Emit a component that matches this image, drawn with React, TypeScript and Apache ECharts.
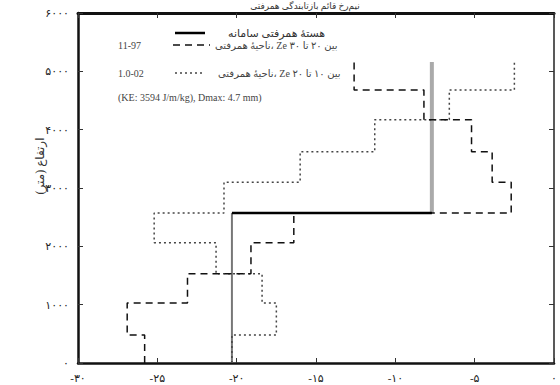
import React, { useEffect, useRef } from 'react';
import * as echarts from 'echarts';

// height layer edges (m)
const heightEdges = [0, 480, 1030, 1530, 2060, 2570, 3100, 3620, 4170, 4680, 5160];
// profile values per layer
const dashedValues = [-25.8, -26.9, -23.1, -19.1, -16.4, -2.7, -3.9, -5.2, -8.2, -12.6];
const dottedValues = [-20.3, -17.5, -18.4, -21.3, -25.2, -20.8, -16.0, -11.3, -6.6, -2.5];
// mean profile (two layers)
const meanEdges = [0, 2570, 5160];
const meanValues = [-20.3, -7.7];

const xMin = -30;
const xMax = 0;
const xStep = 5;
const yMin = 0;
const yMax = 6000;
const yStep = 1000;

const titleText = 'نیم‌رخ قائم بازتابندگی همرفتی';
const yTitle = 'ارتفاع (متر)';
const legendRows = [
  { left: '', text: 'هستهٔ همرفتی سامانه' },
  { left: '11-97', text: 'ناحیهٔ همرفتی، Ze بین ۲۰ تا ۳۰' },
  { left: '1.0-02', text: 'ناحیهٔ همرفتی، Ze بین ۱۰ تا ۲۰' },
];
const legendNote = '(KE: 3594 J/m/kg), Dmax: 4.7 mm)';

const FA = '۰۱۲۳۴۵۶۷۸۹';
const fa = (s: string) => s.replace(/[0-9]/g, (d) => FA[+d]);

const steps = (edges: number[], vals: number[]) => {
  const pts: number[][] = [];
  vals.forEach((v, i) => {
    pts.push([v, edges[i]]);
    pts.push([v, edges[i + 1]]);
  });
  return pts;
};

const FONT = '"Liberation Serif", "DejaVu Sans", serif';

export default function App() {
  const ref = useRef<HTMLDivElement>(null);
  useEffect(() => {
    if (!ref.current) return;
    const chart = echarts.init(ref.current, undefined, { renderer: 'svg' });
    const meanLow = [[meanValues[0], meanEdges[0]], [meanValues[0], meanEdges[1]]];
    const meanMid = [[meanValues[0], meanEdges[1]], [meanValues[1], meanEdges[1]]];
    const meanHigh = [[meanValues[1], meanEdges[1]], [meanValues[1], meanEdges[2]]];
    const axisLine = { show: true, onZero: false, lineStyle: { color: '#111', width: 2.5 } };
    const tick = { show: true, inside: true, length: 5, lineStyle: { color: '#333', width: 1 } };
    const lbl = {
      fontFamily: FONT,
      fontSize: 11,
      color: '#222',
    };
    chart.setOption({
      animation: false,
      grid: { left: 78, right: 3, top: 13, bottom: 22, containLabel: false },
      xAxis: [
        {
          type: 'value', position: 'bottom', min: xMin, max: xMax, interval: xStep,
          axisLine, axisTick: tick, splitLine: { show: false },
          axisLabel: { ...lbl, margin: 9, formatter: (v: number) => (v < 0 ? '-' : '') + fa(String(Math.abs(v))) },
        },
        {
          type: 'value', position: 'top', min: xMin, max: xMax, interval: xStep,
          axisLine: { show: true, onZero: false, lineStyle: { color: '#111', width: 3 } }, axisTick: tick,
          splitLine: { show: false }, axisLabel: { show: false },
        },
      ],
      yAxis: [
        {
          type: 'value', position: 'left', min: yMin, max: yMax, interval: yStep,
          axisLine, axisTick: tick, splitLine: { show: false },
          axisLabel: { ...lbl, margin: 9, formatter: (v: number) => fa(String(v)) },
        },
        {
          type: 'value', position: 'right', min: yMin, max: yMax, interval: yStep,
          axisLine: { show: true, onZero: false, lineStyle: { color: '#222', width: 1.5 } }, axisTick: tick,
          splitLine: { show: false }, axisLabel: { show: false },
        },
      ],
      graphic: [
        { type: 'text', x: 305, y: 1, style: { text: titleText, font: `9px ${FONT}`, fill: '#333', textAlign: 'center', textVerticalAlign: 'top' } },
        { type: 'text', x: 40, y: 166, rotation: Math.PI / 2, style: { text: yTitle, font: `12px ${FONT}`, fill: '#333', textAlign: 'center', textVerticalAlign: 'middle' } },
        { type: 'line', shape: { x1: 175, y1: 33, x2: 205, y2: 33 }, style: { stroke: '#000', lineWidth: 2.5 } },
        { type: 'line', shape: { x1: 173, y1: 45, x2: 210, y2: 45 }, style: { stroke: '#111', lineWidth: 1.5, lineDash: [7, 5] } },
        { type: 'line', shape: { x1: 175, y1: 73, x2: 205, y2: 73 }, style: { stroke: '#444', lineWidth: 1.5, lineDash: [2, 3] } },
        { type: 'text', x: 228, y: 33, style: { text: legendRows[0].text, font: `11px ${FONT}`, fill: '#333', textVerticalAlign: 'middle' } },
        { type: 'text', x: 118, y: 45, style: { text: legendRows[1].left, font: `10px ${FONT}`, fill: '#444', textVerticalAlign: 'middle' } },
        { type: 'text', x: 215, y: 45, style: { text: legendRows[1].text, font: `10px ${FONT}`, fill: '#444', textVerticalAlign: 'middle' } },
        { type: 'text', x: 118, y: 73, style: { text: legendRows[2].left, font: `10px ${FONT}`, fill: '#444', textVerticalAlign: 'middle' } },
        { type: 'text', x: 218, y: 73, style: { text: legendRows[2].text, font: `10px ${FONT}`, fill: '#444', textVerticalAlign: 'middle' } },
        { type: 'text', x: 118, y: 97, style: { text: legendNote, font: `10px ${FONT}`, fill: '#444', textVerticalAlign: 'middle' } },
      ],
      series: [
        {
          type: 'line', data: meanHigh, showSymbol: false, z: 1,
          lineStyle: { color: '#aaa', width: 4 },
        },
        {
          type: 'line', data: meanLow, showSymbol: false, z: 2,
          lineStyle: { color: '#777', width: 2 },
        },
        {
          type: 'line', data: steps(heightEdges, dottedValues), showSymbol: false, z: 3,
          lineStyle: { color: '#444', width: 1.5, type: [2, 3] },
        },
        {
          type: 'line', data: steps(heightEdges, dashedValues), showSymbol: false, z: 4,
          lineStyle: { color: '#111', width: 1.5, type: [7, 5] },
        },
        {
          type: 'line', data: meanMid, showSymbol: false, z: 5,
          lineStyle: { color: '#000', width: 2.5 },
        },
      ],
    });
    return () => chart.dispose();
  }, []);
  return <div ref={ref} style={{ width: 560, height: 385, position: 'absolute', left: 0, top: 0, background: '#fff' }} />;
}
